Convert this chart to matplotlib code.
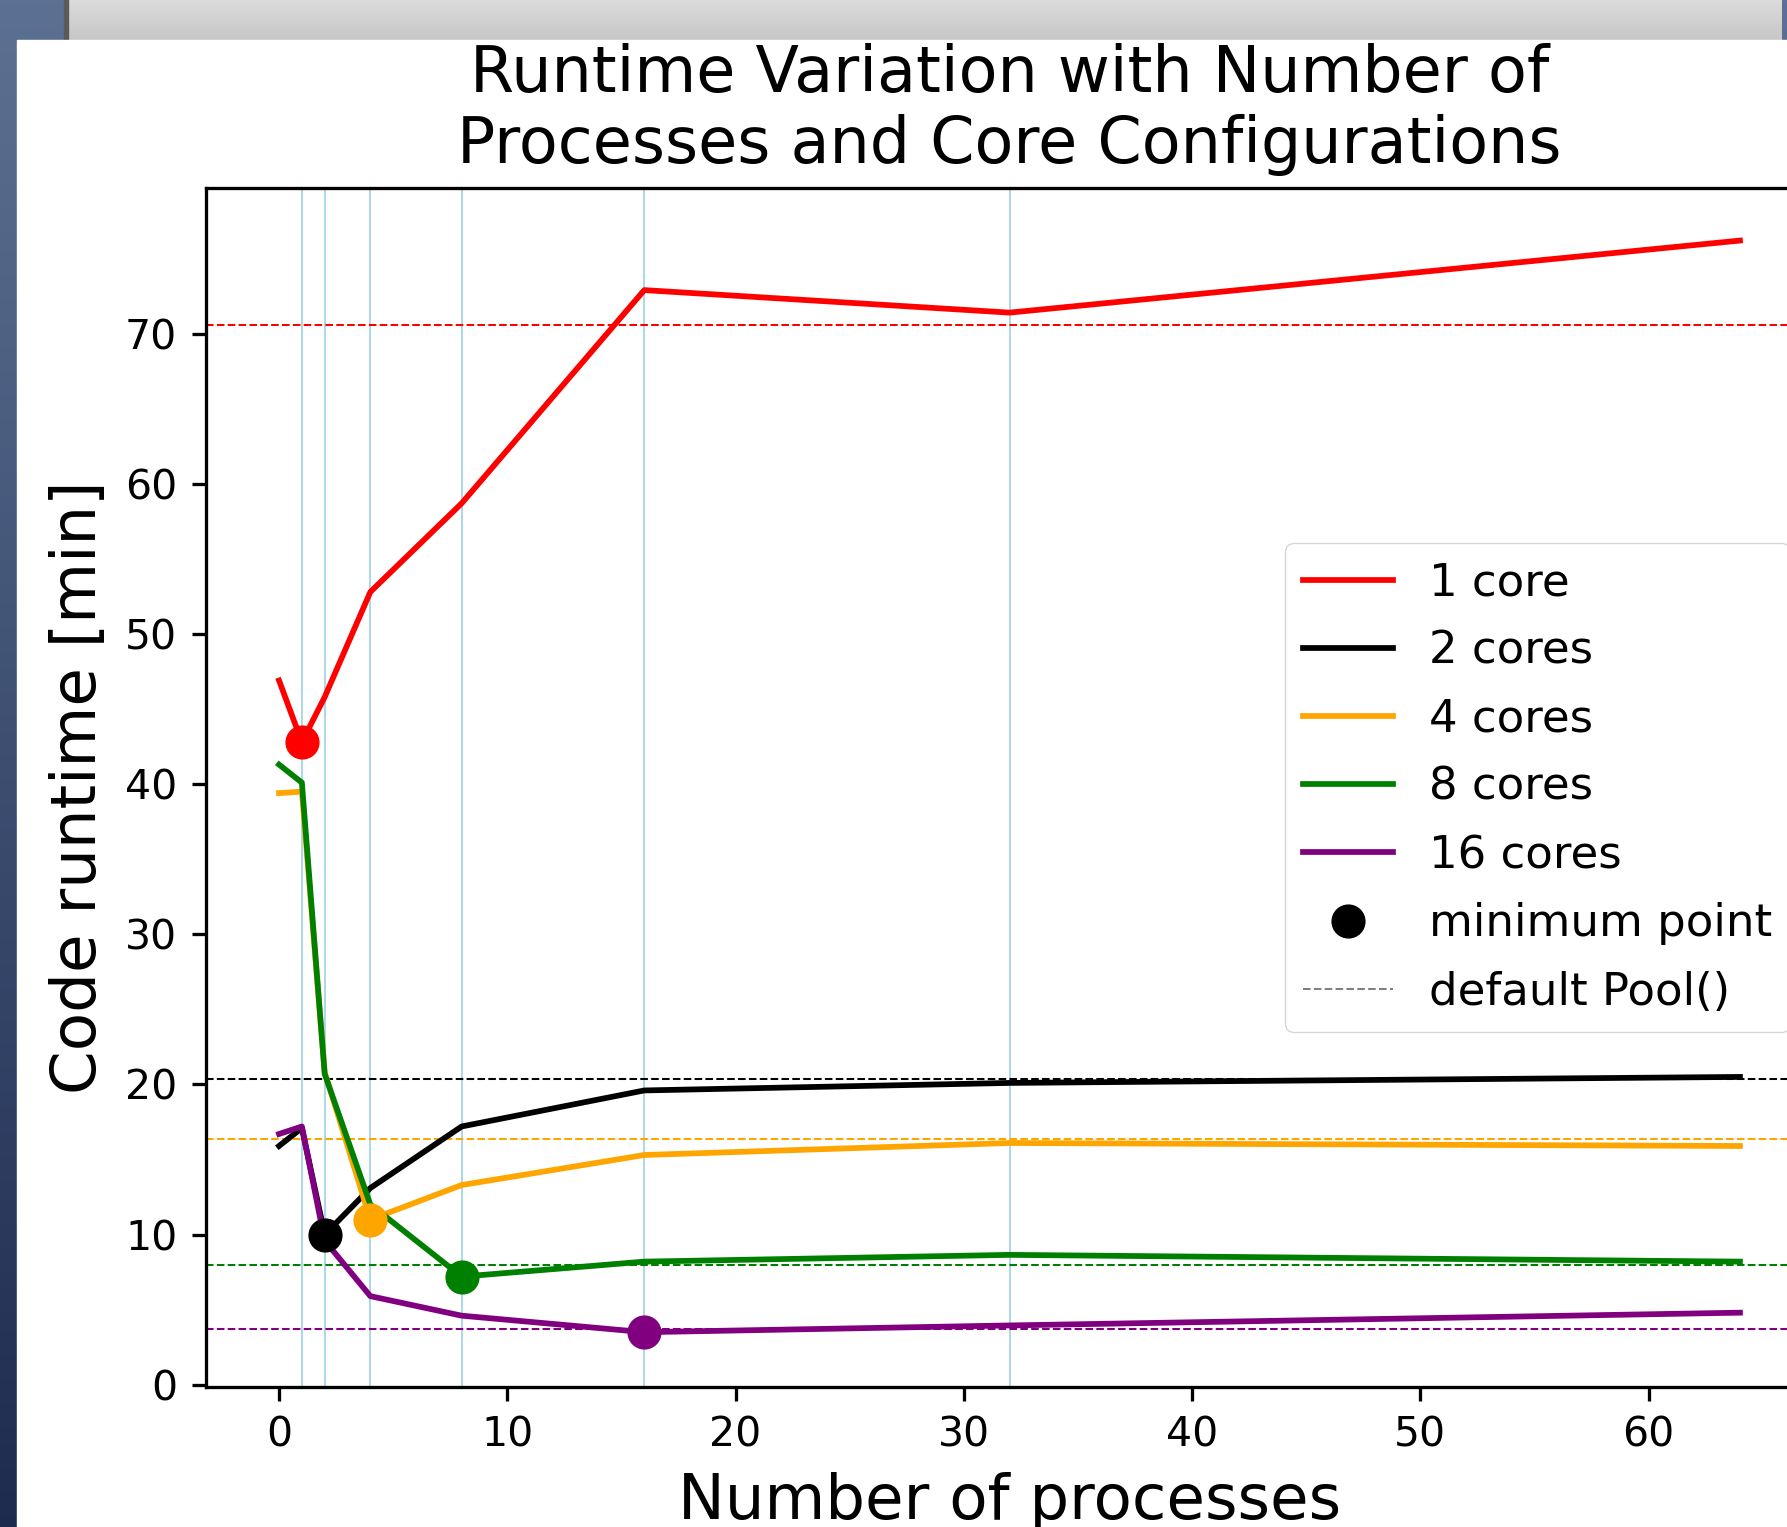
import numpy as np
import matplotlib
matplotlib.use('Agg')
import matplotlib.pyplot as plt
from matplotlib.lines import Line2D
from matplotlib.patches import Rectangle

# scale of the screenshot compared with a default matplotlib figure
k = 2.95

processes = [0, 1, 2, 4, 8, 16, 32, 64]
marked_processes = [1, 2, 4, 8, 16, 32]

core_labels = ['1 core', '2 cores', '4 cores', '8 cores', '16 cores']
core_colors = ['red', 'black', 'orange', 'green', 'purple']

runtime_1 = [46.9, 42.8, 45.8, 52.8, 58.7, 72.9, 71.4, 76.2]
runtime_2 = [15.9, 17.1, 10.0, 13.1, 17.2, 19.6, 20.1, 20.5]
runtime_4 = [39.4, 39.5, 20.8, 11.0, 13.3, 15.3, 16.1, 15.9]
runtime_8 = [41.3, 40.1, 20.7, 12.0, 7.2, 8.2, 8.65, 8.2]
runtime_16 = [16.7, 17.2, 9.6, 5.9, 4.6, 3.5, 3.95, 4.8]

default_pool = [70.6, 20.35, 16.35, 7.97, 3.69]

runtimes = [runtime_1, runtime_2, runtime_4, runtime_8, runtime_16]

W, H = 1787, 1527
fig = plt.figure(figsize=(W / 100, H / 100), dpi=100)
fig.patch.set_facecolor('white')

# screenshot surroundings: blue desktop strip, grey window bar
bg = fig.add_axes([0, 0, 1, 1], zorder=-10)
grad = np.linspace(0, 1, 256)[:, None, None]
blue_top = np.array([0.36, 0.44, 0.58])
blue_bot = np.array([0.12, 0.17, 0.32])
bg.imshow(blue_top + (blue_bot - blue_top) * grad, extent=(0, W, H, 0), aspect='auto')
grey_top = np.array([0.86, 0.86, 0.86])
grey_bot = np.array([0.78, 0.78, 0.78])
bg.imshow(grey_top + (grey_bot - grey_top) * grad, extent=(67, 1782, 40, 0), aspect='auto')
bg.add_patch(Rectangle((64, 0), 4, 40, color='#5a5a5a'))
bg.add_patch(Rectangle((17, 40), W - 17, H - 40, color='white'))
bg.set_xlim(0, W)
bg.set_ylim(H, 0)
bg.axis('off')

ax = fig.add_axes([206 / W, (H - 1387) / H, (1813 - 206) / W, (1387 - 188) / H])

for x in marked_processes:
    ax.axvline(x, color='lightblue', lw=0.5 * k, zorder=1)

for runtime, label, color, pool in zip(runtimes, core_labels, core_colors, default_pool):
    ax.plot(processes, runtime, color=color, lw=1.4 * k, label=label, zorder=2)
    ax.axhline(pool, color=color, ls='--', lw=0.5 * k, zorder=1.5)

for runtime, color in zip(runtimes, core_colors):
    i = int(np.argmin(runtime))
    ax.plot(processes[i], runtime[i], 'o', color=color, ms=8 * k, zorder=3)

handles, labels = ax.get_legend_handles_labels()
handles += [
    Line2D([], [], ls='none', marker='o', color='black', ms=8 * k),
    Line2D([], [], ls='--', color='gray', lw=0.5 * k),
]
labels += ['minimum point', 'default Pool()']
ax.legend(handles, labels, loc='center right', fontsize=11 * k, labelspacing=0.56)

ax.set_xlim(-3.2, 67.2)
ax.set_ylim(-0.15, 79.7)
ax.set_xticks(range(0, 61, 10))
ax.set_yticks(range(0, 71, 10))

ax.set_title('Runtime Variation with Number of\nProcesses and Core Configurations',
             fontsize=15.5 * k, pad=6 * k)
ax.set_xlabel('Number of processes', fontsize=15.3 * k, labelpad=4 * k)
ax.set_ylabel('Code runtime [min]', fontsize=15.3 * k, labelpad=4 * k)

ax.tick_params(labelsize=10 * k, width=0.8 * k, length=3.5 * k, pad=3.5 * k)
for spine in ax.spines.values():
    spine.set_linewidth(0.8 * k)

fig.savefig('out.png', dpi=100)
